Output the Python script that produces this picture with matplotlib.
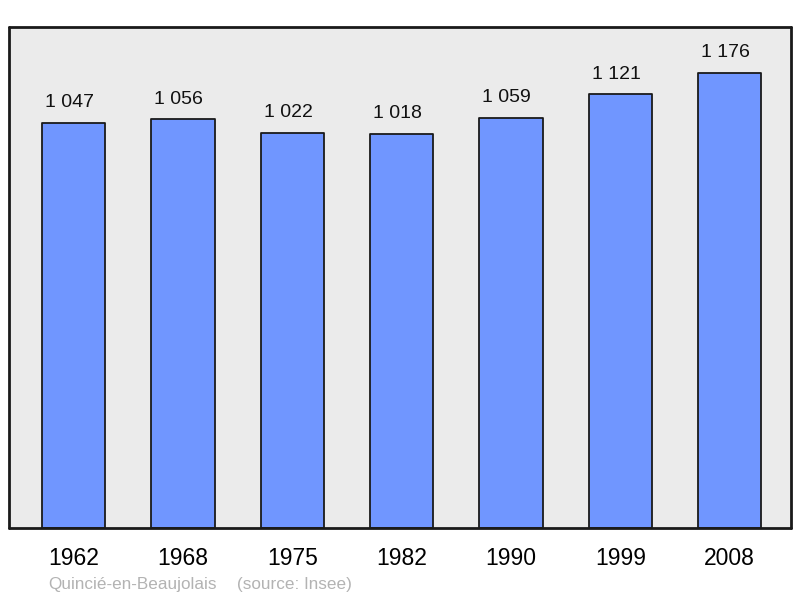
import matplotlib.pyplot as plt

plt.rcParams["font.family"] = ["Liberation Sans", "DejaVu Sans"]

years = ["1962", "1968", "1975", "1982", "1990", "1999", "2008"]
population = [1047, 1056, 1022, 1018, 1059, 1121, 1176]
labels = ["1 047", "1 056", "1 022", "1 018", "1 059", "1 121", "1 176"]
town = "Quincié-en-Beaujolais"
source = "(source: Insee)"


def main():
    fig = plt.figure(figsize=(8, 5.98), dpi=100)
    ax = fig.add_axes([9 / 800, 70 / 598, 782 / 800, 501 / 598])
    ax.set_facecolor("#ebebeb")

    x = range(len(years))
    bars = ax.bar(x, population, width=0.58, color="#7096ff",
                  edgecolor="#1a1a1a", linewidth=1.3, joinstyle="round")

    for b, lab in zip(bars, labels):
        ax.annotate(lab, (b.get_x() + b.get_width() / 2, b.get_height()),
                    xytext=(-3, 8.5), textcoords="offset points",
                    ha="center", va="bottom", fontsize=14, color="#111111")

    ax.set_xlim(-0.59, 6.56)
    ax.set_ylim(0, 1295)
    ax.set_xticks(list(x))
    ax.set_xticklabels(years, fontsize=16.5)
    ax.tick_params(axis="x", length=0, pad=13.5)
    ax.set_yticks([])
    for s in ax.spines.values():
        s.set_linewidth(2)
        s.set_color("#1a1a1a")
        s.set_capstyle("round")

    fig.text(48 / 800, 1 - 584 / 598, town, fontsize=12.3, color="#b3b3b3",
             va="center", ha="left")
    fig.text(237 / 800, 1 - 584 / 598, source, fontsize=12.3, color="#b3b3b3",
             va="center", ha="left")

    fig.savefig("out.png", dpi=100)
    plt.close(fig)


if __name__ == "__main__":
    main()
